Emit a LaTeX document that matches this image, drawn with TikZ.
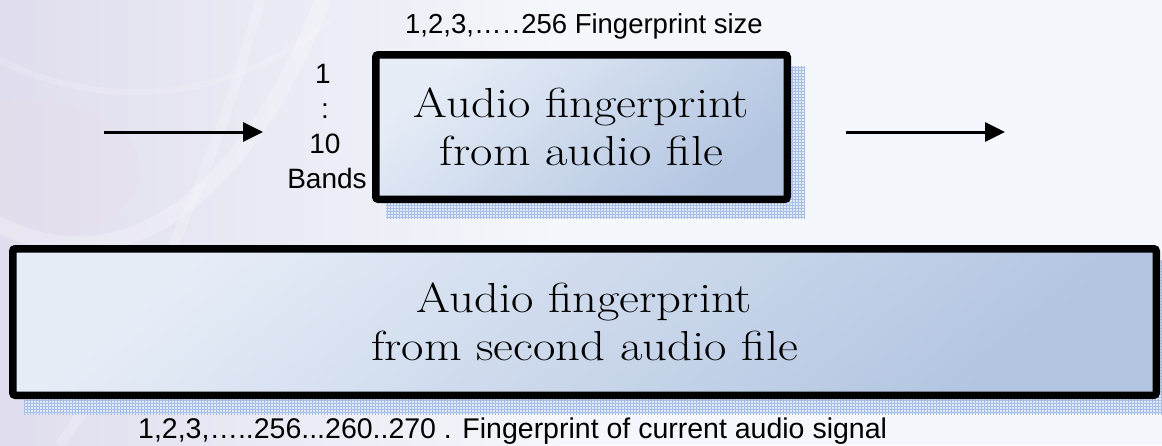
\documentclass[tikz,border=0pt]{standalone}
\usepackage{fontspec}
\usepackage{graphicx}
\setsansfont{Liberation Sans}
\usetikzlibrary{arrows.meta,patterns}

\definecolor{bgpale}{RGB}{244,247,251}
\definecolor{bglav}{RGB}{224,222,238}
\definecolor{bgpink}{RGB}{236,220,232}
\definecolor{boxlight}{RGB}{230,237,247}
\definecolor{boxdark}{RGB}{179,197,225}
\definecolor{hatchbg}{RGB}{224,233,247}
\definecolor{hatchline}{RGB}{168,190,230}

\pgfdeclarelayer{back}
\pgfsetlayers{back,main}

% serif caption set a little wider than the stock font
\newcommand\widecap[1]{\scalebox{1.16}[1]{#1}}
% evenly spaced run of dots used in the size label
\newcommand\spreaddots{…\kern1.5pt.\kern1.5pt.\kern1.5pt}

\tikzset{
  fpbox/.style={draw=black, line width=7.5pt, rounded corners=2.5pt, inner sep=0pt,
    top color=boxlight, bottom color=boxdark, shading angle=40,
    align=center, font=\fontsize{42}{48}\selectfont},
  hatchshadow/.style={fill=hatchbg, postaction={pattern=grid, pattern color=hatchline}},
  flow/.style={line width=3pt, -{Triangle[length=20pt,width=19pt]}},
  lbl/.style={font=\sffamily\fontsize{27.5}{31}\selectfont, inner sep=0pt},
  bandlbl/.style={font=\sffamily\fontsize{28}{32}\selectfont, inner sep=0pt},
  sizelbl/.style={font=\sffamily\fontsize{28.5}{33}\selectfont, inner sep=0pt},
}

\begin{document}
\begin{tikzpicture}[x=1pt, y=-1pt]
  \useasboundingbox (0,0) rectangle (1162,445);

  % fingerprint blocks
  \node[fpbox, minimum width=411.5pt, minimum height=144.5pt] (fpTop) at (581.5,127)
    {\widecap{Audio fingerprint}\\\widecap{from audio file}};
  \node[fpbox, minimum width=1143.5pt, minimum height=146.5pt] (fpBottom) at (584.5,322)
    {\widecap{Audio fingerprint}\\\widecap{from second audio file}};

  % labels
  \node[lbl, anchor=base west] (sizeTop) at (405,33) {1,2,3,\spreaddots256 Fingerprint size};
  \node[sizelbl, anchor=base west] (sizeBottom) at (138,438)
    {1,2,3,…..256...260..270 . Fingerprint of current audio signal};
  \node[bandlbl, anchor=base] (bandFirst) at (323,83) {1};
  \node[bandlbl, anchor=base] (bandDots) at (325,118) {:};
  \node[bandlbl, anchor=base] (bandLast) at (325,153) {10};
  \node[bandlbl, anchor=base] (bandName) at (327,188) {Bands};

  % flow arrows
  \coordinate (feedIn) at (104,132);
  \coordinate (feedInEnd) at (263,132);
  \coordinate (feedOut) at (846,132);
  \coordinate (feedOutEnd) at (1005,132);
  \draw[flow] (feedIn) -- (feedInEnd);
  \draw[flow] (feedOut) -- (feedOutEnd);

  \begin{pgfonlayer}{back}
    \clip (0,0) rectangle (1162,445);
    % slide background with a soft wash on the left
    \fill[bgpale] (0,0) rectangle (1162,445);
    \fill[left color=bglav, right color=bgpale] (0,0) rectangle (560,445);
    \fill[bgpink, opacity=0.25] (30,170) ellipse (110 and 70);
    \draw[white, opacity=0.25, line width=16pt] (-40,200) .. controls (120,320) and (260,180) .. (330,-20);
    \draw[white, opacity=0.2, line width=10pt] (60,445) .. controls (160,300) and (220,150) .. (260,0);
    \draw[white, opacity=0.15, line width=6pt] (0,60) .. controls (120,120) and (250,90) .. (330,20);
    % hatched drop shadows
    \fill[hatchshadow] ([shift={(14,15)}]fpTop.north west) rectangle ([shift={(14,15)}]fpTop.south east);
    \fill[hatchshadow] ([shift={(15,15)}]fpBottom.north west) rectangle ([shift={(15,15)}]fpBottom.south east);
  \end{pgfonlayer}
\end{tikzpicture}
\end{document}
